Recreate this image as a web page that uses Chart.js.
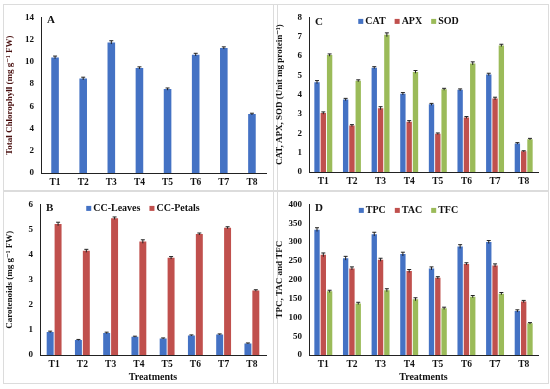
<!DOCTYPE html>
<html>
<head>
<meta charset="utf-8">
<script src="https://cdn.jsdelivr.net/npm/chart.js@4"></script>
<style>
  body { margin: 0; background: #fff; }
  .panel { position: absolute; border: 1px solid #dcdcdc; box-sizing: border-box; }
  canvas { display: block; }
</style>
</head>
<body>
<div class="panel" style="left:3px; top:4px; width:275px; height:187px;"><canvas id="chartA" width="273" height="185"></canvas></div>
<div class="panel" style="left:273px; top:4px; width:276px; height:187px;"><canvas id="chartC" width="274" height="185"></canvas></div>
<div class="panel" style="left:3px; top:191px; width:275px; height:193px;"><canvas id="chartB" width="273" height="191"></canvas></div>
<div class="panel" style="left:273px; top:191px; width:276px; height:193px;"><canvas id="chartD" width="274" height="191"></canvas></div>

<script>
// dados
const treatments = ['T1', 'T2', 'T3', 'T4', 'T5', 'T6', 'T7', 'T8']

// A - clorofila total
const chlorophyll = [10.4, 8.5, 11.75, 9.45, 7.55, 10.65, 11.25, 5.3]
const chlorophyllErr = [0.12, 0.12, 0.15, 0.1, 0.1, 0.12, 0.1, 0.08]

// B - carotenoides
const ccLeaves = [0.92, 0.6, 0.88, 0.73, 0.66, 0.78, 0.82, 0.46]
const ccLeavesErr = [0.03, 0.02, 0.03, 0.02, 0.02, 0.02, 0.02, 0.02]
const ccPetals = [5.22, 4.15, 5.45, 4.52, 3.87, 4.82, 5.07, 2.57]
const ccPetalsErr = [0.07, 0.06, 0.05, 0.07, 0.05, 0.04, 0.04, 0.03]

// C - enzimas
const cat = [4.65, 3.75, 5.4, 4.05, 3.5, 4.25, 5.05, 1.48]
const catErr = [0.08, 0.06, 0.05, 0.06, 0.05, 0.05, 0.06, 0.04]
const apx = [3.05, 2.4, 3.3, 2.6, 1.98, 2.82, 3.8, 1.07]
const apxErr = [0.06, 0.05, 0.08, 0.06, 0.04, 0.05, 0.07, 0.03]
const sod = [6.05, 4.72, 7.1, 5.18, 4.28, 5.62, 6.55, 1.7]
const sodErr = [0.06, 0.05, 0.1, 0.07, 0.05, 0.08, 0.06, 0.04]

// D - compostos fenólicos
const tpc = [333, 257, 321, 268, 230, 288, 300, 117]
const tpcErr = [5, 5, 5, 5, 4, 5, 4, 3]
const tac = [266, 230, 253, 223, 205, 242, 238, 142]
const tacErr = [5, 4, 4, 4, 3, 3, 4, 3]
const tfc = [169, 137, 172, 148, 124, 155, 163, 84]
const tfcErr = [3, 3, 4, 4, 3, 3, 3, 2]

const BLUE = '#4472C4'
const RED = '#C0504D'
const GREEN = '#9BBB59'
const SERIF = "'Liberation Serif', 'DejaVu Serif', serif"

Chart.defaults.font.family = SERIF
Chart.defaults.font.weight = 'bold'
Chart.defaults.color = '#111'

// barras de erro simples
const errorBars = {
    id: 'errorBars',
    afterDatasetsDraw(chart) {
        const ctx = chart.ctx
        const y = chart.scales.y
        ctx.save()
        ctx.strokeStyle = '#222'
        ctx.lineWidth = 1
        chart.data.datasets.forEach((ds, i) => {
            if (!ds.errors) return
            chart.getDatasetMeta(i).data.forEach((bar, j) => {
                const v = ds.data[j], e = ds.errors[j]
                const top = y.getPixelForValue(v + e)
                const bot = y.getPixelForValue(v - e)
                ctx.beginPath()
                ctx.moveTo(bar.x, top); ctx.lineTo(bar.x, bot)
                ctx.moveTo(bar.x - 2, top); ctx.lineTo(bar.x + 2, top)
                ctx.stroke()
            })
        })
        ctx.restore()
    }
}

// letra do painel + legenda horizontal dentro da área do gráfico
const panelDecor = {
    id: 'panelDecor',
    afterDraw(chart, args, opts) {
        const ctx = chart.ctx
        const area = chart.chartArea
        ctx.save()
        ctx.font = 'bold 11px ' + SERIF
        ctx.fillStyle = '#111'
        ctx.textBaseline = 'middle'
        ctx.fillText(opts.letter, area.left + 6, area.top + opts.letterDy)

        const items = chart.data.datasets
        if (items.length > 1) {
            ctx.font = 'bold 10px ' + SERIF
            const box = 5, gap = 2, space = 9
            const widths = items.map((d) => box + gap + ctx.measureText(d.label).width)
            const total = widths.reduce((a, b) => a + b, 0) + space * (items.length - 1)
            let x = (area.left + area.right) / 2 + opts.legendDx - total / 2
            const y = area.top + opts.legendDy
            items.forEach((d, i) => {
                ctx.fillStyle = d.backgroundColor
                ctx.fillRect(x, y - box / 2, box, box)
                ctx.fillStyle = '#111'
                ctx.fillText(d.label, x + box + gap, y + 0.5)
                x += widths[i] + space
            })
        }
        ctx.restore()
    }
}

function makePanel(id, cfg) {
    new Chart(document.getElementById(id), {
        type: 'bar',
        data: {
            labels: treatments,
            datasets: cfg.datasets.map((d) => ({
                label: d.label,
                data: d.data,
                errors: d.errors,
                backgroundColor: d.color,
                barPercentage: cfg.barPct,
                categoryPercentage: cfg.catPct
            }))
        },
        options: {
            responsive: false,
            animation: false,
            devicePixelRatio: 1,
            layout: { padding: cfg.padding },
            plugins: {
                legend: { display: false },
                tooltip: { enabled: false },
                panelDecor: {
                    letter: cfg.letter, letterDy: cfg.letterDy,
                    legendDx: cfg.legendDx || 0, legendDy: cfg.legendDy || 0
                }
            },
            scales: {
                x: {
                    grid: { display: false, drawTicks: false },
                    border: { color: '#222', width: 1 },
                    ticks: { padding: 4, font: { size: 9.5, weight: 'bold' }, color: '#111' },
                    title: {
                        display: !!cfg.xTitle,
                        text: cfg.xTitle,
                        padding: { top: 1, bottom: 0 },
                        font: { size: 10, weight: 'bold' },
                        color: '#111'
                    },
                    afterFit: (s) => { s.height = cfg.xHeight }
                },
                y: {
                    min: 0,
                    max: cfg.yMax,
                    grid: { display: false, drawTicks: false },
                    border: { color: '#222', width: 1 },
                    ticks: { stepSize: cfg.yStep, padding: 7, font: { size: 9, weight: 'bold' }, color: '#111' },
                    title: {
                        display: true,
                        text: cfg.yTitle,
                        padding: { top: 0, bottom: 2 },
                        font: { size: 9, weight: 'bold' },
                        color: cfg.yTitleColor || '#111'
                    },
                    afterFit: (s) => { s.width = cfg.yWidth }
                }
            }
        },
        plugins: [errorBars, panelDecor]
    })
}

makePanel('chartA', {
    letter: 'A', letterDy: 3,
    datasets: [{ label: 'Total Chlorophyll', data: chlorophyll, errors: chlorophyllErr, color: BLUE }],
    barPct: 0.9, catPct: 0.3,
    yMax: 14, yStep: 2,
    yTitle: 'Total Chlorophyll (mg g\u207B\u00B9 FW)', yTitleColor: '#4a1010',
    yWidth: 37, xHeight: 17,
    padding: { top: 10, right: 11, left: 0, bottom: 0 }
})

makePanel('chartC', {
    letter: 'C', letterDy: 5,
    legendDx: -15, legendDy: 4,
    datasets: [
        { label: 'CAT', data: cat, errors: catErr, color: BLUE },
        { label: 'APX', data: apx, errors: apxErr, color: RED },
        { label: 'SOD', data: sod, errors: sodErr, color: GREEN }
    ],
    barPct: 0.85, catPct: 0.66,
    yMax: 8, yStep: 1,
    yTitle: 'CAT, APX, SOD (Unit mg protein\u207B\u00B9)',
    yWidth: 35, xHeight: 18,
    padding: { top: 7, right: 10, left: 0, bottom: 0 }
})

makePanel('chartB', {
    letter: 'B', letterDy: 4,
    legendDx: -10, legendDy: 4,
    datasets: [
        { label: 'CC-Leaves', data: ccLeaves, errors: ccLeavesErr, color: BLUE },
        { label: 'CC-Petals', data: ccPetals, errors: ccPetalsErr, color: RED }
    ],
    barPct: 0.88, catPct: 0.56,
    yMax: 6, yStep: 1,
    yTitle: 'Carotenoids (mg g\u207B\u00B9 FW)',
    yWidth: 36, xHeight: 28,
    xTitle: 'Treatments',
    padding: { top: 8, right: 11, left: 0, bottom: 0 }
})

makePanel('chartD', {
    letter: 'D', letterDy: 4,
    legendDx: -15, legendDy: 6,
    datasets: [
        { label: 'TPC', data: tpc, errors: tpcErr, color: BLUE },
        { label: 'TAC', data: tac, errors: tacErr, color: RED },
        { label: 'TFC', data: tfc, errors: tfcErr, color: GREEN }
    ],
    barPct: 0.85, catPct: 0.66,
    yMax: 400, yStep: 50,
    yTitle: 'TPC, TAC and TFC',
    yWidth: 35, xHeight: 28,
    xTitle: 'Treatments',
    padding: { top: 5, right: 10, left: 0, bottom: 0 }
})
</script>
</body>
</html>
